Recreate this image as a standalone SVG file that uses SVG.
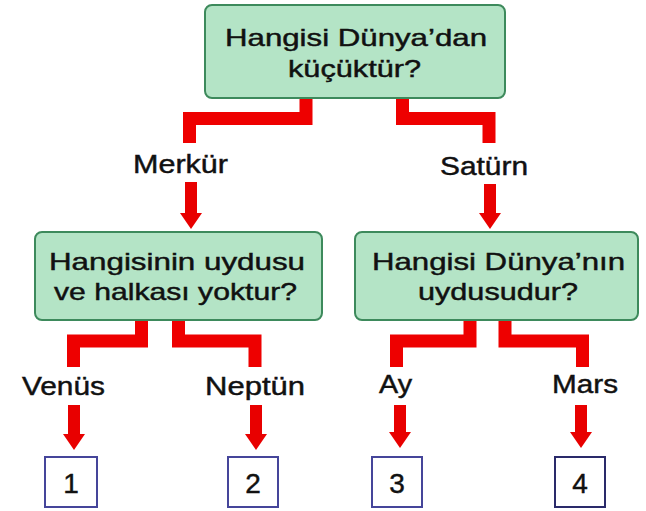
<svg xmlns="http://www.w3.org/2000/svg" width="646" height="511" viewBox="0 0 646 511">
<style>
.q{fill:#b4e4c6;stroke:#3d8a5c;stroke-width:2}
.t{font-family:"Liberation Sans",Arial,sans-serif;fill:#111111;stroke:#111111;stroke-width:0.45}
.qt{font-size:24px}
.lt{font-size:26px}
.nt{font-size:28px;text-anchor:middle}
.n{fill:#ffffff;stroke:#45459a;stroke-width:2}
.c{fill:none;stroke:#ee0000;stroke-width:13;stroke-linejoin:miter}
.a{fill:none;stroke:#e80000;stroke-width:12}
</style>
<defs>
<marker id="ah" markerUnits="userSpaceOnUse" markerWidth="16" markerHeight="22" viewBox="0 0 16 22" refX="0" refY="11" orient="auto">
<path d="M0,0 L16,11 L0,22 Z" fill="#e80000"/>
</marker>
</defs>
<rect width="646" height="511" fill="#ffffff"/>
<g id="connectors">
<path class="c" d="M306,98 V118.5 H189.5 V143"/>
<path class="c" d="M402.5,98 V118.5 H489 V143"/>
<path class="c" d="M141.5,320 V341 H73.5 V367"/>
<path class="c" d="M178.5,320 V341 H255 V367"/>
<path class="c" d="M470,320 V341 H396.5 V367"/>
<path class="c" d="M505,320 V341 H582.5 V367"/>
<line class="a" x1="191" y1="182" x2="191" y2="213" marker-end="url(#ah)"/>
<line class="a" x1="490" y1="184" x2="490" y2="213" marker-end="url(#ah)"/>
<line class="a" x1="74" y1="405" x2="74" y2="434" marker-end="url(#ah)"/>
<line class="a" x1="256" y1="405" x2="256" y2="434" marker-end="url(#ah)"/>
<line class="a" x1="400" y1="405" x2="400" y2="432" marker-end="url(#ah)"/>
<line class="a" x1="581" y1="405" x2="581" y2="432" marker-end="url(#ah)"/>
<text class="t lt" x="133" y="173" textLength="95" lengthAdjust="spacingAndGlyphs">Merkür</text>
<text class="t lt" x="440" y="175" textLength="88" lengthAdjust="spacingAndGlyphs">Satürn</text>
<text class="t lt" x="22" y="395" textLength="83" lengthAdjust="spacingAndGlyphs">Venüs</text>
<text class="t lt" x="205" y="395" textLength="100" lengthAdjust="spacingAndGlyphs">Neptün</text>
<text class="t lt" x="379" y="393" textLength="33" lengthAdjust="spacingAndGlyphs">Ay</text>
<text class="t lt" x="552" y="393" textLength="66" lengthAdjust="spacingAndGlyphs">Mars</text>
</g>
<g id="q1">
<rect class="q" x="205" y="5" width="300" height="93" rx="7"/>
<text class="t qt" x="225" y="46" textLength="262" lengthAdjust="spacingAndGlyphs">Hangisi Dünya’dan</text>
<text class="t qt" x="288" y="77" textLength="133" lengthAdjust="spacingAndGlyphs">küçüktür?</text>
</g>
<g id="q2">
<rect class="q" x="35" y="232" width="287" height="88" rx="7"/>
<text class="t qt" x="49" y="270" textLength="256" lengthAdjust="spacingAndGlyphs">Hangisinin uydusu</text>
<text class="t qt" x="54" y="300" textLength="243" lengthAdjust="spacingAndGlyphs">ve halkası yoktur?</text>
</g>
<g id="q3">
<rect class="q" x="355" y="232" width="283" height="88" rx="7"/>
<text class="t qt" x="372" y="270" textLength="253" lengthAdjust="spacingAndGlyphs">Hangisi Dünya’nın</text>
<text class="t qt" x="418" y="300" textLength="160" lengthAdjust="spacingAndGlyphs">uydusudur?</text>
</g>
<g id="n1">
<rect class="n" x="45" y="457" width="52" height="50"/>
<text class="t nt" x="71" y="493">1</text>
</g>
<g id="n2">
<rect class="n" x="228" y="457" width="50" height="50"/>
<text class="t nt" x="253" y="493">2</text>
</g>
<g id="n3">
<rect class="n" x="372" y="457" width="50" height="50"/>
<text class="t nt" x="397" y="493">3</text>
</g>
<g id="n4">
<rect class="n" x="555" y="457" width="50" height="50" style="stroke:#2a2a6a"/>
<text class="t nt" x="580" y="493">4</text>
</g>
</svg>
